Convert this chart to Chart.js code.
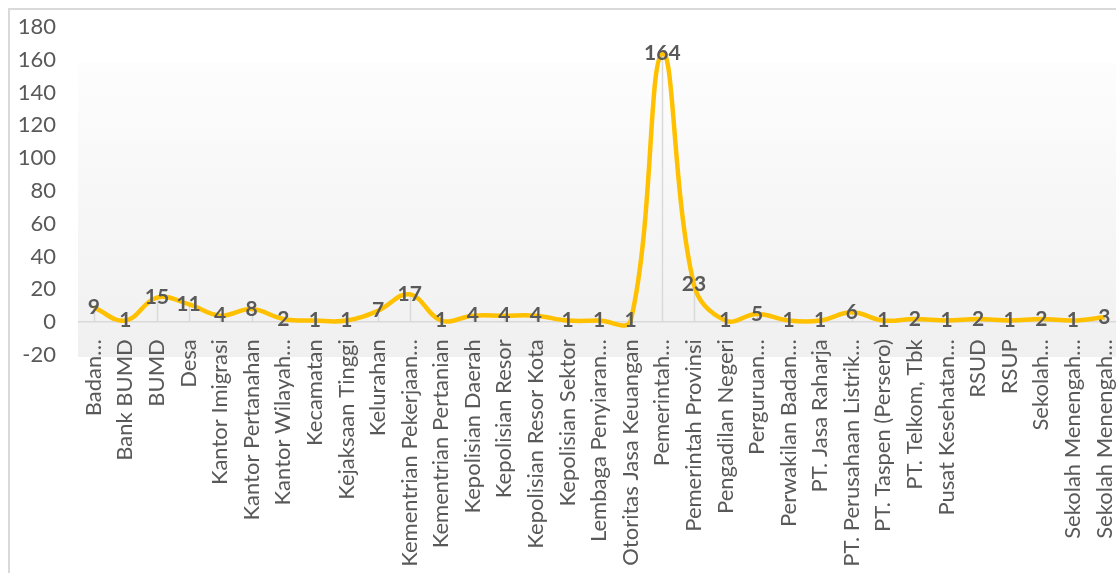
<!DOCTYPE html>
<html>
<head>
<meta charset="utf-8">
<script src="https://cdn.jsdelivr.net/npm/chart.js@4.4.1/dist/chart.umd.min.js"></script>
<style>
  html, body { margin: 0; padding: 0; background: #fff; overflow: hidden; width: 1116px; height: 573px; }
  #frame { position: absolute; left: 8px; top: 8px; width: 1200px; height: 700px; border: 2px solid #d9d9d9; box-sizing: border-box; }
  #wrap { position: absolute; left: 0; top: 0; width: 1140px; height: 573px; }
</style>
</head>
<body>
<div id="frame"></div>
<div id="wrap"><canvas id="chart"></canvas></div>
<script>
// categories (as they appear, truncated the same way)
const categories = [
  'Badan…', 'Bank BUMD', 'BUMD', 'Desa', 'Kantor Imigrasi', 'Kantor Pertanahan',
  'Kantor Wilayah…', 'Kecamatan', 'Kejaksaan Tinggi', 'Kelurahan',
  'Kementrian Pekerjaan…', 'Kementrian Pertanian', 'Kepolisian Daerah',
  'Kepolisian Resor', 'Kepolisian Resor Kota', 'Kepolisian Sektor',
  'Lembaga Penyiaran…', 'Otoritas Jasa Keuangan', 'Pemerintah…',
  'Pemerintah Provinsi', 'Pengadilan Negeri', 'Perguruan…', 'Perwakilan Badan…',
  'PT. Jasa Raharja', 'PT. Perusahaan Listrik…', 'PT. Taspen (Persero)',
  'PT. Telkom, Tbk', 'Pusat Kesehatan…', 'RSUD', 'RSUP', 'Sekolah…',
  'Sekolah Menengah…', 'Sekolah Menengah…'
];
const counts = [9, 1, 15, 11, 4, 8, 2, 1, 1, 7, 17, 1, 4, 4, 4, 1, 1, 1, 164, 23, 1, 5, 1, 1, 6, 1, 2, 1, 2, 1, 2, 1, 3];
const yMin = -20;
const yMax = 180;
const yStep = 20;

const textColor = '#595959';
const lineColor = '#FFC000';

// plot area fill: soft white-to-grey gradient like the Excel original
const plotFill = {
  id: 'plotFill',
  beforeDraw(chart) {
    const { ctx, chartArea: a } = chart;
    const top = a.top + (a.bottom - a.top) * 0.11;
    const g = ctx.createLinearGradient(0, top, 0, a.bottom + 2);
    g.addColorStop(0, '#fdfdfd');
    g.addColorStop(1, '#f0f0f0');
    ctx.save();
    ctx.fillStyle = g;
    ctx.fillRect(a.left, top, a.right - a.left + 20, a.bottom + 2 - top);
    ctx.restore();
  }
};

// drop lines from each point down to zero
const dropLines = {
  id: 'dropLines',
  beforeDatasetsDraw(chart) {
    const { ctx } = chart;
    const y0 = chart.scales.y.getPixelForValue(0);
    const meta = chart.getDatasetMeta(0);
    ctx.save();
    ctx.strokeStyle = '#d9d9d9';
    ctx.lineWidth = 1.5;
    meta.data.forEach(pt => {
      ctx.beginPath();
      ctx.moveTo(Math.round(pt.x) + 0.5, pt.y);
      ctx.lineTo(Math.round(pt.x) + 0.5, y0);
      ctx.stroke();
    });
    ctx.restore();
  }
};

// value labels centred on each point
const valueLabels = {
  id: 'valueLabels',
  afterDatasetsDraw(chart) {
    const { ctx } = chart;
    const meta = chart.getDatasetMeta(0);
    const data = chart.data.datasets[0].data;
    ctx.save();
    ctx.font = 'bold 21px Lato';
    ctx.fillStyle = textColor;
    ctx.textAlign = 'center';
    ctx.textBaseline = 'middle';
    meta.data.forEach((pt, i) => {
      ctx.fillText(String(data[i]), pt.x, pt.y);
    });
    ctx.restore();
  }
};

new Chart(document.getElementById('chart'), {
  type: 'line',
  data: {
    labels: categories,
    datasets: [{
      data: counts,
      borderColor: lineColor,
      borderWidth: 4.5,
      pointRadius: 0,
      tension: 0.4,
      fill: false
    }]
  },
  options: {
    responsive: true,
    maintainAspectRatio: false,
    animation: false,
    layout: { padding: { left: 8, top: 27, right: 9, bottom: 218 } },
    plugins: { legend: { display: false }, tooltip: { enabled: false } },
    scales: {
      x: {
        position: { y: 0 },
        offset: true,
        grid: { display: false },
        border: { display: false },
        afterFit(scale) { scale.height = 0; scale.paddingTop = 0; scale.paddingBottom = 0; },
        ticks: {
          autoSkip: false,
          maxRotation: 90,
          minRotation: 90,
          padding: 9,
          color: textColor,
          font: { family: 'Lato', size: 22 }
        }
      },
      y: {
        min: yMin,
        max: yMax,
        afterFit(scale) { scale.width = 70; scale.paddingTop = 0; scale.paddingBottom = 0; },
        border: { display: false },
        grid: {
          drawTicks: false,
          lineWidth: 1.5,
          color: c => (c.tick && c.tick.value === 0) ? '#d9d9d9' : 'rgba(0,0,0,0)'
        },
        ticks: {
          stepSize: yStep,
          padding: 22,
          color: textColor,
          font: { family: 'Lato', size: 22 }
        }
      }
    }
  },
  plugins: [plotFill, dropLines, valueLabels]
});
</script>
</body>
</html>
